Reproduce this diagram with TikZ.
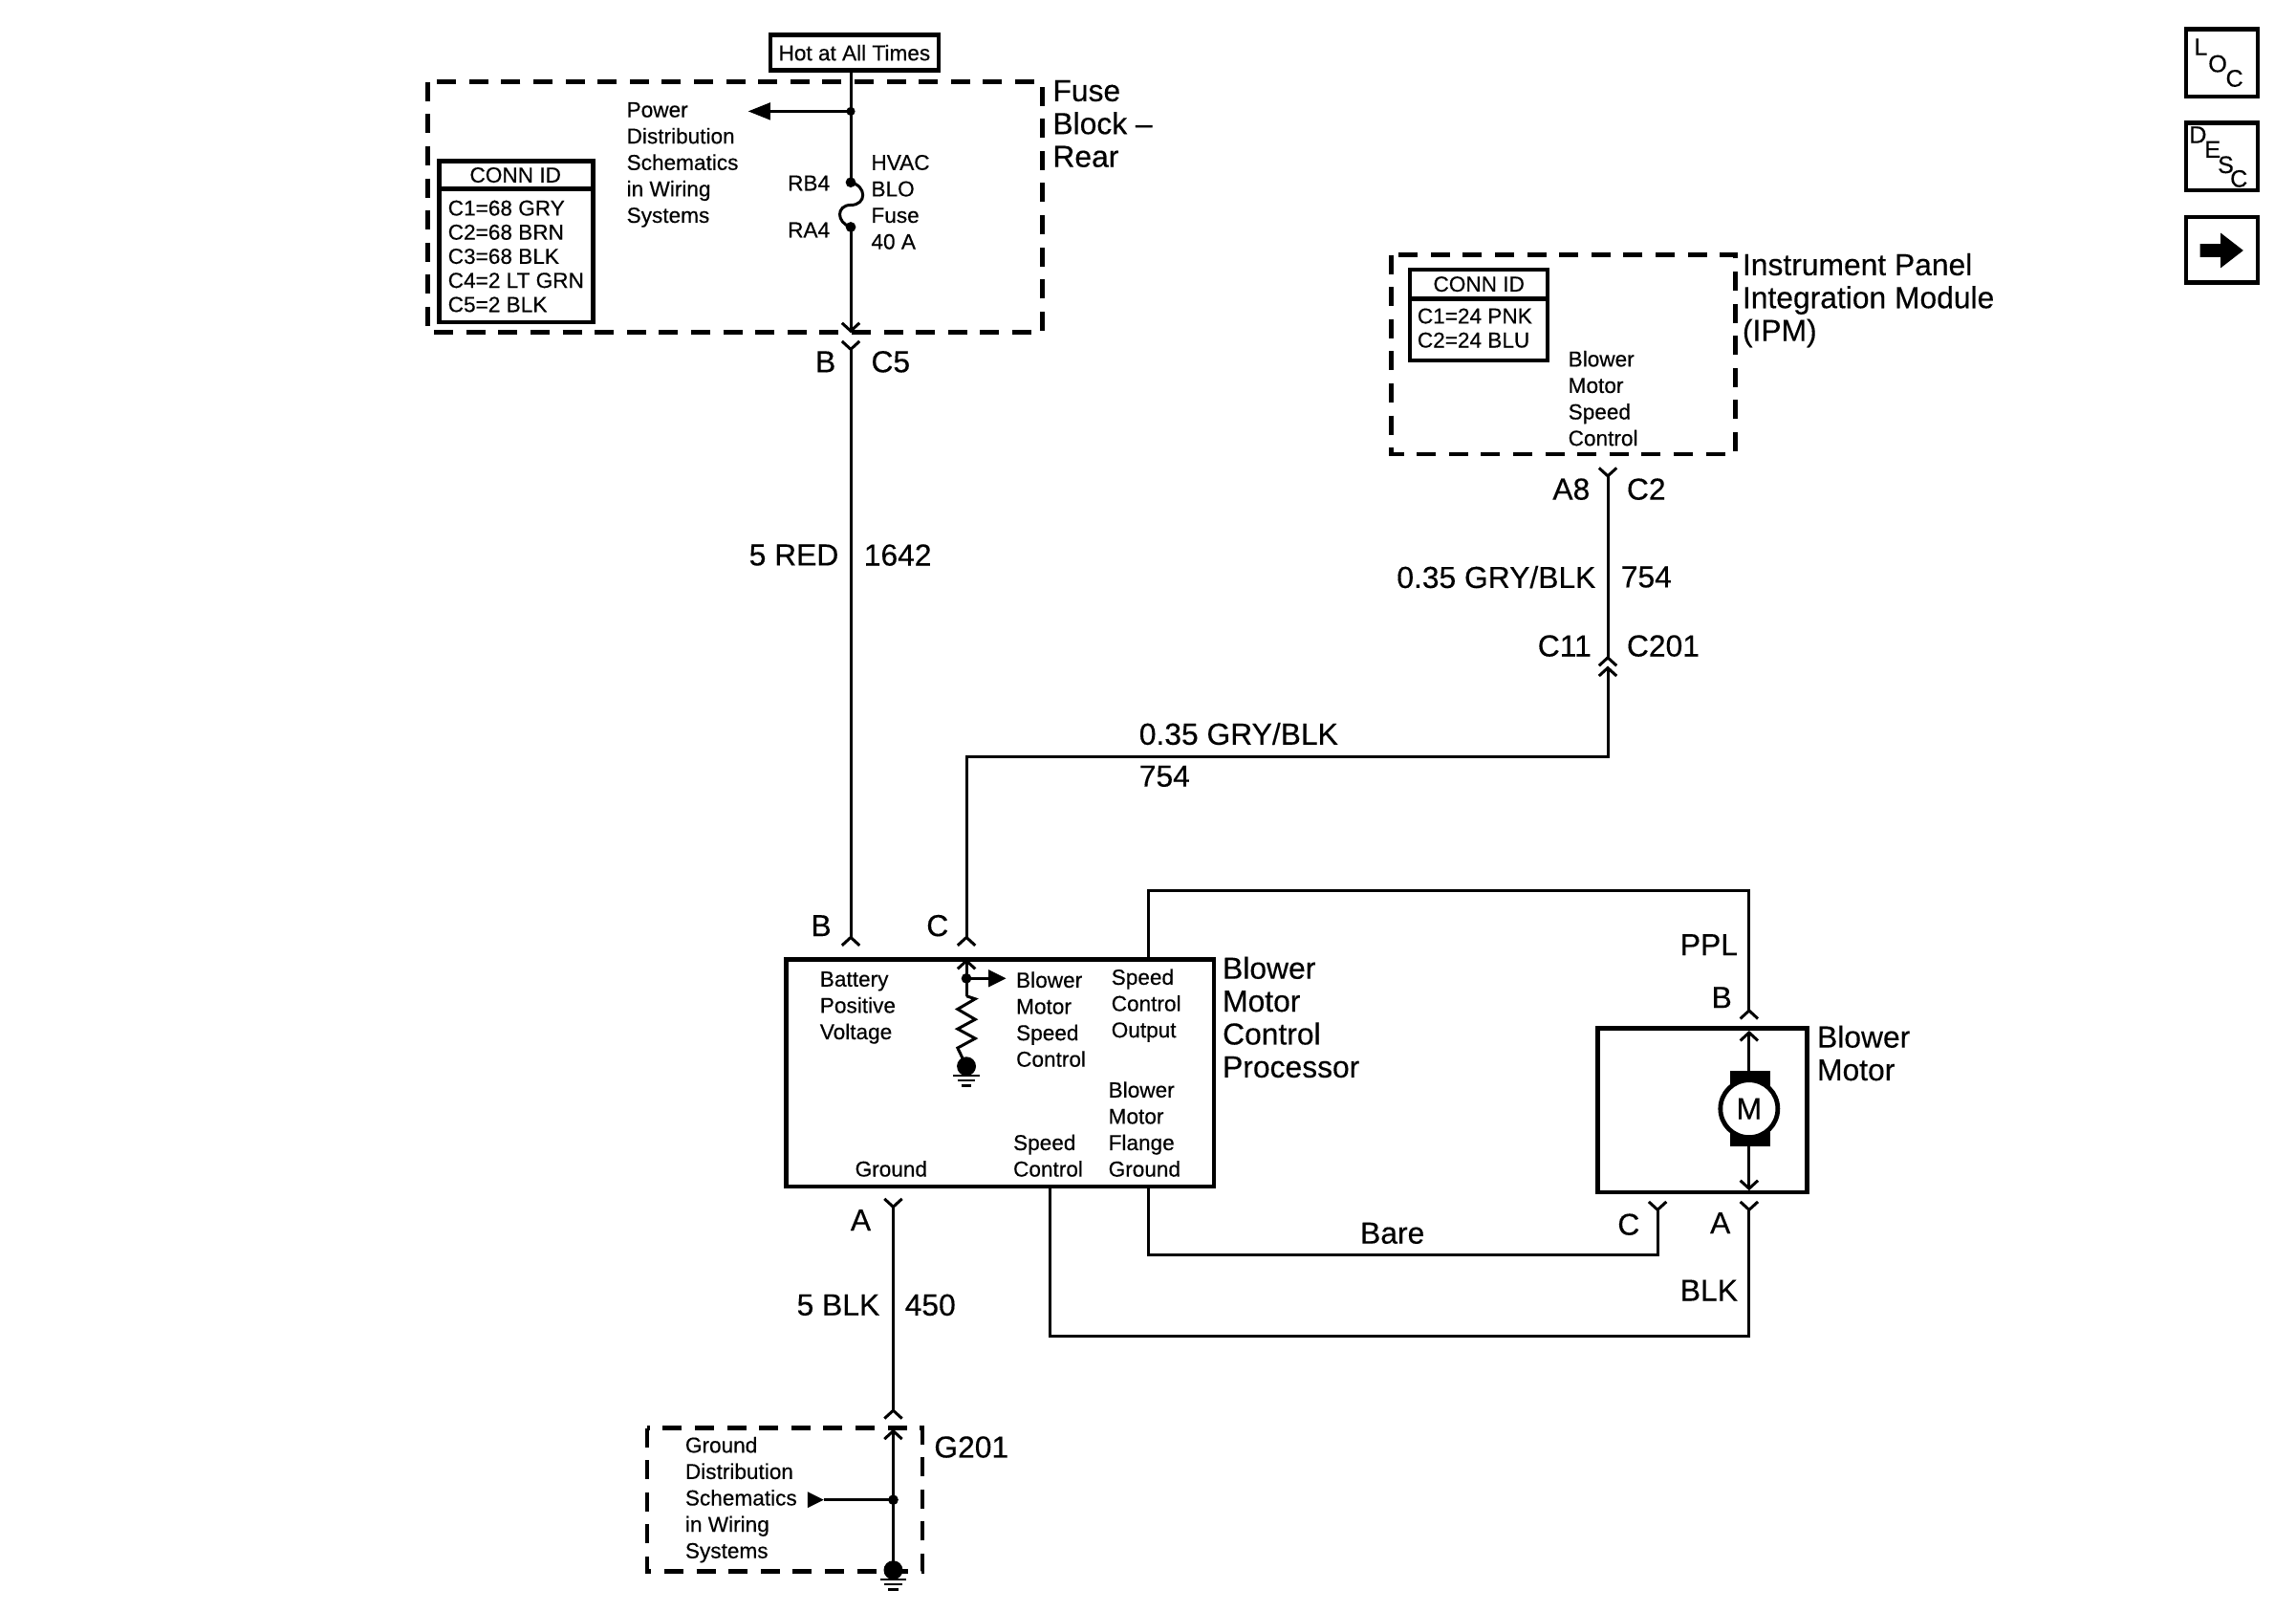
\documentclass[tikz,border=0pt]{standalone}
\usepackage{fontspec}
\setmainfont{Liberation Sans}[RawFeature={embolden=0.3}]
\newcommand{\smallf}{\fontsize{11.3}{13.8}\selectfont}
\newcommand{\bigf}{\fontsize{15.9}{17.2}\selectfont}
\newcommand{\medf}{\fontsize{12.6}{15}\selectfont}
\newcommand{\motorf}{\fontsize{16}{18}\selectfont}
\tikzset{
  wire/.style={line width=1.5pt,line cap=butt,line join=miter},
  frame/.style={line width=2.2pt,line join=miter},
  dashbox/.style={line width=2.3pt,dash pattern=on 10pt off 6.8pt},
  lab/.style={inner sep=0pt,outer sep=0pt,anchor=west,align=left},
  small/.style={lab,font=\smallf},
  big/.style={lab,font=\bigf},
  rbig/.style={inner sep=0pt,anchor=east,align=right,font=\bigf},
  tip/.style={fill=black,draw=none},
}
\newcommand{\upmark}[1]{\draw[wire,shift={(#1)}] (-6,5.5)--(0,0)--(6,5.5);}
\newcommand{\downmark}[1]{\draw[wire,shift={(#1)}] (-6,-5.5)--(0,0)--(6,-5.5);}
\newcommand{\gnd}[1]{\begin{scope}[shift={(#1)}]
  \fill (0,0) circle (6.5);
  \draw[line width=1.3pt] (-9,6.5)--(9,6.5);
  \draw[line width=1.3pt] (-6,9.7)--(6,9.7);
  \draw[line width=1.6pt] (-3.5,13)--(3.5,13);
\end{scope}}
\begin{document}
\begin{tikzpicture}[x=0.76594pt,y=-0.76594pt]
\useasboundingbox (0,0) rectangle (1568,1100);
% --- Fuse block
\draw[dashbox] (292,56) rectangle (712,227);
\node[draw,frame,minimum width=88pt,minimum height=18.5pt,inner sep=0pt,font=\smallf,fill=white] (hot) at (583.5,36) {Hot at All Times};
\node[small] (pds) at (428,112.5) {Power\\Distribution\\Schematics\\in Wiring\\Systems};
\node[small] (hvac) at (595,138) {HVAC\\BLO\\Fuse\\40 A};
\node[small] (rb4) at (538,125) {RB4};
\node[small] (ra4) at (538,157) {RA4};
\node[big] (fbr) at (719,84.5) {Fuse\\Block –\\Rear};
% conn id 1
\draw[frame] (300,110) rectangle (405,220);
\draw[frame] (300,129) -- (405,129);
\node[font=\smallf,inner sep=0pt] (cid1) at (352,119.5) {CONN ID};
\node[lab,font=\fontsize{11.3}{12.6}\selectfont] (cid1t) at (306,175) {C1=68 GRY\\C2=68 BRN\\C3=68 BLK\\C4=2 LT GRN\\C5=2 BLK};
% fuse wiring
\coordinate (j1) at (581,76);
\coordinate (rb) at (581,124.5);
\coordinate (ra) at (581,155);
\coordinate (fb) at (581,226);
\coordinate (pa) at (526,76);
\coordinate (cy) at (581,238.5);
\coordinate (pb) at (581,640);
\draw[wire] (rb |- hot.south) -- (rb);
\draw[wire] (j1) -- (pa);
\draw[tip] (511,76) -- (526,70) -- (526,82) -- cycle;
\fill (j1) circle (3);
\fill (rb) circle (3.5);
\fill (ra) circle (3.5);
\draw[wire] (rb) .. controls (592,127) and (592,140) .. (581,140) .. controls (571,140) and (571,152) .. (ra);
\draw[wire] (ra) -- (fb);
\downmark{fb}
\downmark{cy}
\draw[wire] (cy) -- (pb);
\upmark{pb}
\node[rbig] (b1) at (571,247) {B};
\node[big] (c5) at (595,247) {C5};
\node[rbig] (red) at (573,379) {5 RED};
\node[big] (n1642) at (590,379) {1642};
% --- IPM
\draw[dashbox] (950,174) rectangle (1185,310);
\draw[frame] (963,184) rectangle (1057,246);
\draw[frame] (963,204) -- (1057,204);
\node[font=\smallf,inner sep=0pt] (cid2) at (1010,194) {CONN ID};
\node[lab,font=\fontsize{11.3}{12.6}\selectfont] (cid2t) at (968,224) {C1=24 PNK\\C2=24 BLU};
\node[small] (bmsc1) at (1071,272) {Blower\\Motor\\Speed\\Control};
\node[big] (ipm) at (1190,205) {Instrument Panel\\Integration Module\\(IPM)};
\coordinate (ay) at (1098,325);
\coordinate (c11a) at (1098,449);
\coordinate (c11b) at (1098,456);
\coordinate (cor1) at (1098,517);
\coordinate (cor2) at (660,517);
\coordinate (pc) at (660,640);
\downmark{ay}
\draw[wire] (ay) -- (c11a);
\upmark{c11a}
\upmark{c11b}
\draw[wire] (c11b) -- (cor1) -- (cor2) -- (pc);
\upmark{pc}
\node[rbig] (a8) at (1086,334) {A8};
\node[big] (c2) at (1111,334) {C2};
\node[rbig] (gb1) at (1090,394) {0.35 GRY/BLK};
\node[big] (n754a) at (1107,394) {754};
\node[rbig] (c11) at (1087,441) {C11};
\node[big] (c201) at (1111,441) {C201};
\node[big] (gb2) at (778,501) {0.35 GRY/BLK};
\node[big] (n754b) at (778,530) {754};
% --- Processor
\draw[frame] (537,655) rectangle (829,810);
\node[rbig] (b2) at (568,632) {B};
\node[rbig] (c3) at (648,632) {C};
\node[small] (bpv) at (560,688) {Battery\\Positive\\Voltage};
\node[small] (bmsc2) at (694,696) {Blower\\Motor\\Speed\\Control};
\node[small] (sco) at (759,686.5) {Speed\\Control\\Output};
\node[small] (bmfg) at (757,771) {Blower\\Motor\\Flange\\Ground};
\node[small] (sc) at (692,789) {Speed\\Control};
\node[small] (gr) at (584,798) {Ground};
\node[big] (bmcp) at (835,694.5) {Blower\\Motor\\Control\\Processor};
\coordinate (it) at (660,656);
\coordinate (ij) at (660,668);
\coordinate (ia) at (675,668);
\coordinate (iz) at (660,680);
\coordinate (ig) at (660,728);
\draw[wire] (it) -- (iz);
\upmark{it}
\draw[wire] (ij) -- (ia);
\draw[tip] (687,668) -- (675,662) -- (675,674) -- cycle;
\fill (ij) circle (3.5);
\draw[wire] (iz) -- (666,682) -- (654,689) -- (666,696) -- (654,702.5) -- (666,709) -- (654,715.5) -- (ig);
\gnd{ig}
% --- Blower motor
\draw[frame] (1091,702) rectangle (1234,814);
\node[big] (bm) at (1241,719) {Blower\\Motor};
\coordinate (mt) at (1194.5,705);
\coordinate (mb) at (1194.5,811.5);
\coordinate (mid) at (1194.5,757);
\draw[wire] (mt) -- (mb);
\upmark{mt}
\downmark{mb}
\fill (1181.5,731) rectangle (1208.7,783);
\node[draw,circle,fill=white,line width=2.4pt,minimum size=30pt,inner sep=0pt,font=\motorf] (motor) at (mid) {M};
% processor to motor wires
\coordinate (s1) at (784,655);
\coordinate (s2) at (784,608);
\coordinate (s3) at (1194.5,608);
\coordinate (s4) at (1194.5,690);
\draw[wire] (s1) -- (s2) -- (s3) -- (s4);
\upmark{s4}
\node[rbig] (ppl) at (1187,645) {PPL};
\node[rbig] (b3) at (1183,681) {B};
\coordinate (f1) at (784,810);
\coordinate (f2) at (784,857);
\coordinate (f3) at (1132,857);
\coordinate (f4) at (1132,826);
\draw[wire] (f1) -- (f2) -- (f3) -- (f4);
\downmark{f4}
\node[big] (bare) at (929,842) {Bare};
\node[rbig] (c4) at (1120,836) {C};
\coordinate (g1) at (717,810);
\coordinate (g2) at (717,912);
\coordinate (g3) at (1194.5,912);
\coordinate (g4) at (1194.5,826);
\draw[wire] (g1) -- (g2) -- (g3) -- (g4);
\downmark{g4}
\node[rbig] (a2) at (1182,835) {A};
\node[rbig] (blk) at (1187,881) {BLK};
% --- Ground
\coordinate (ya) at (610,824);
\coordinate (yb) at (610,963);
\downmark{ya}
\draw[wire] (ya) -- (yb);
\upmark{yb}
\node[rbig] (a1) at (595,833) {A};
\node[rbig] (blk5) at (601,891) {5 BLK};
\node[big] (n450) at (618,891) {450};
\draw[dashbox] (442,975) rectangle (630,1073);
\node[small] (gds) at (468,1024) {Ground\\Distribution\\Schematics\\in Wiring\\Systems};
\node[big] (g201) at (638,988) {G201};
\coordinate (gt) at (610,977);
\coordinate (gj) at (610,1024);
\coordinate (ga) at (562.5,1024);
\coordinate (gg) at (610,1072);
\draw[wire,line width=1.8pt] (gt) -- (gg);
\upmark{gt}
\draw[wire] (gj) -- (ga);
\draw[tip] (562.5,1024) -- (551.5,1018.5) -- (551.5,1029.5) -- cycle;
\fill (gj) circle (3.5);
\gnd{gg}
% --- Side icons
\draw[frame] (1493,20) rectangle (1542,66);
\node[inner sep=0pt,font=\medf] (il) at (1503,32) {L};
\node[inner sep=0pt,font=\medf] (io) at (1514.5,43.5) {O};
\node[inner sep=0pt,font=\medf] (ic) at (1526,53.5) {C};
\draw[frame] (1493,84) rectangle (1542,130);
\node[inner sep=0pt,font=\medf] (id) at (1501,92) {D};
\node[inner sep=0pt,font=\medf] (ie) at (1511,102) {E};
\node[inner sep=0pt,font=\medf] (is) at (1520,112.5) {S};
\node[inner sep=0pt,font=\medf] (ic2) at (1529,122) {C};
\draw[frame] (1493,148) rectangle (1542,193);
\fill (1502.5,166.5) -- (1516.5,166.5) -- (1516.5,159) -- (1532,171) -- (1516.5,183) -- (1516.5,175.5) -- (1502.5,175.5) -- cycle;
\end{tikzpicture}
\end{document}
